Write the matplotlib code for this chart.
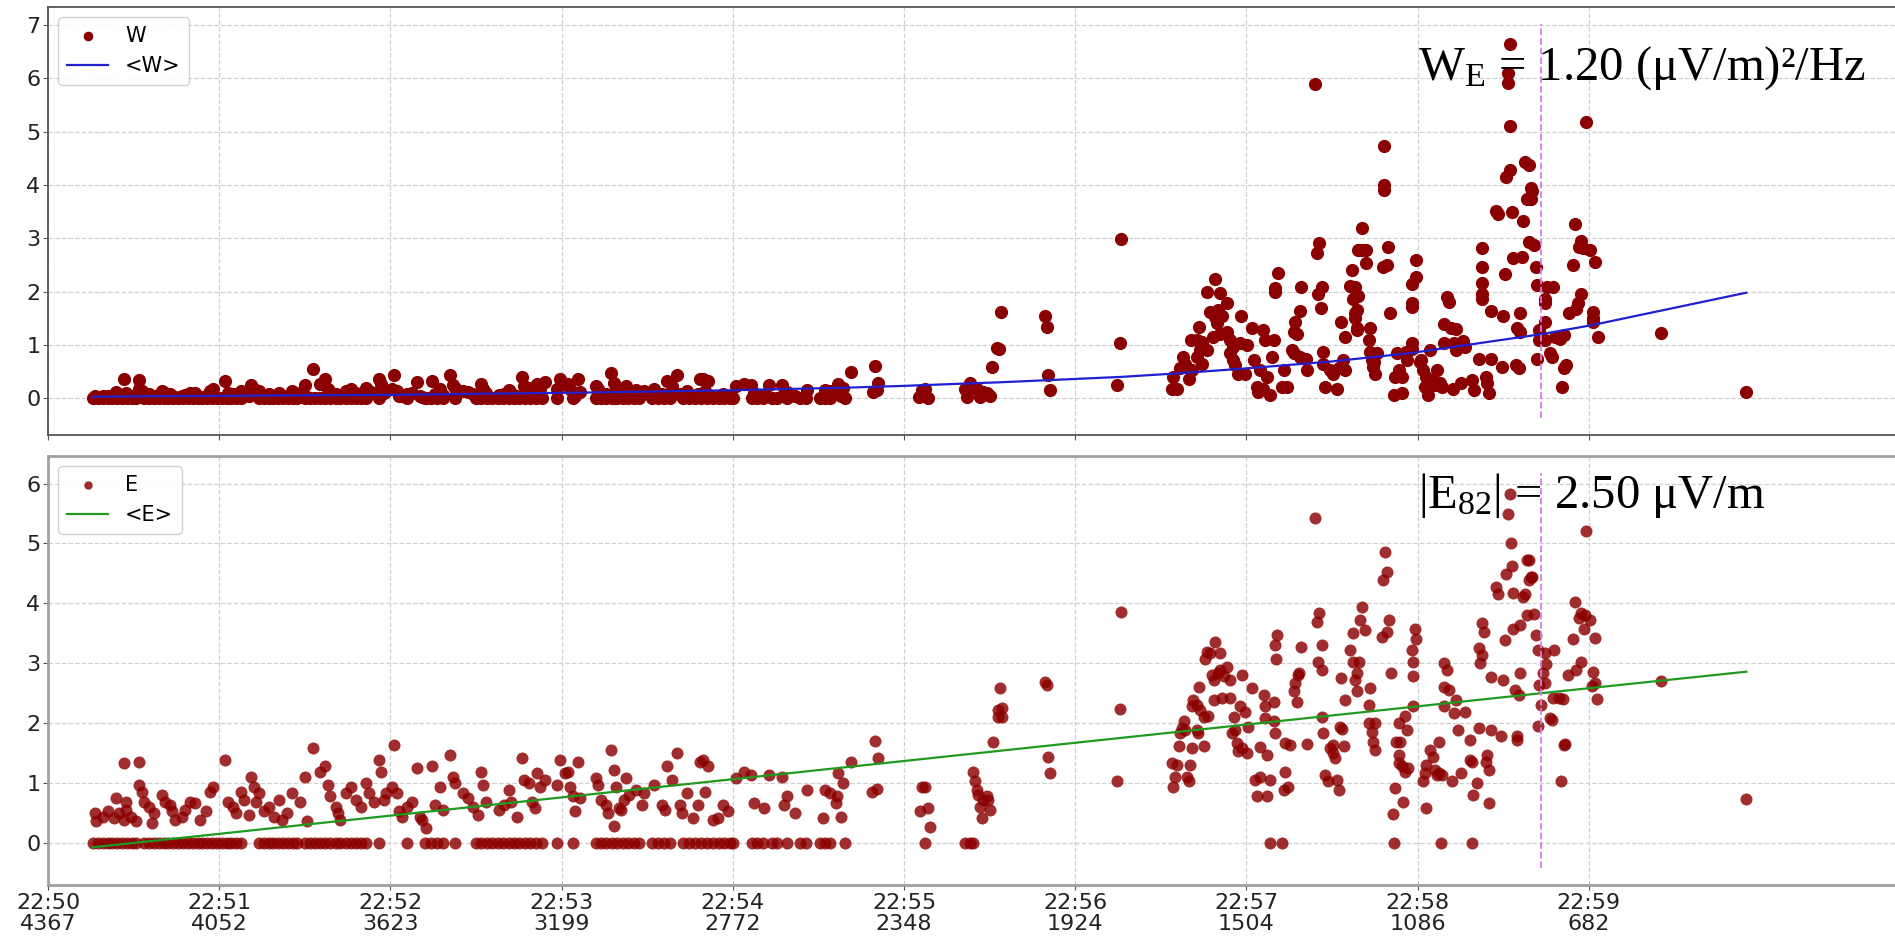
import matplotlib
matplotlib.use('Agg')
import matplotlib.pyplot as plt
import numpy as np

plt.rcParams['mathtext.fontset'] = 'custom'
plt.rcParams['mathtext.rm'] = 'Liberation Serif'

# time axis: seconds after 22:50:00
tick_sec = [0, 60, 120, 180, 240, 300, 360, 420, 480, 540]
tick_clock = ['22:50', '22:51', '22:52', '22:53', '22:54', '22:55', '22:56', '22:57', '22:58', '22:59']
tick_alt = [4367, 4052, 3623, 3199, 2772, 2348, 1924, 1504, 1086, 682]

# early dense part, W and E share the same samples
t_early = [16.4, 16.7, 19.4, 21.2, 23.0, 23.9, 24.8, 26.6, 26.6, 27.4, 27.4, 29.2, 31.0, 31.9, 31.9, 32.8, 33.7, 35.5, 36.4, 37.3,
           40.0, 40.9, 42.6, 43.5, 44.4, 47.1, 48.0, 49.8, 51.6, 53.4, 55.2, 56.9, 57.8,
           61.9, 63.2, 65.0, 65.9, 67.7, 68.6, 70.4, 71.3, 72.1, 73.0, 73.9, 75.7, 77.5, 79.3, 81.1, 82.0, 83.8, 85.6, 88.2, 90.0, 90.9, 92.7,
           95.4, 97.2, 98.1, 99.0, 100.8, 101.6, 102.5, 104.3, 106.1, 107.9, 109.7, 111.5, 112.4, 114.2, 115.9, 116.8, 117.7, 118.6, 120.4, 121.3, 122.2, 123.1,
           124.0, 125.8, 127.6, 129.4, 130.3, 131.1, 132.6, 134.7, 135.6, 137.4, 138.3, 141.0, 141.9, 142.8,
           145.5, 147.2, 149.0, 150.8, 151.7, 152.6, 153.5, 158.0, 159.8, 161.5, 162.4, 164.2, 166.0, 166.9, 168.7, 169.6, 170.5, 171.4, 172.3, 174.1,
           178.5, 179.4, 181.2, 182.1, 183.0, 183.9, 184.8, 185.7, 186.6,
           191.9, 192.8, 193.7, 195.5, 196.4, 197.3, 198.2, 198.2, 199.1, 200.0, 200.9, 201.8, 202.7, 203.6, 206.2, 208.0, 208.9,
           212.5, 215.2, 216.1, 217.0, 218.8, 220.5, 221.4, 222.3, 224.1, 225.9, 227.7, 228.6, 229.5, 230.4, 231.3, 233.1, 234.9, 236.6, 238.4,
           241.1, 243.8, 246.5, 247.4, 250.9, 252.7, 257.2, 258.1, 259.0, 261.7, 266.1,
           271.5, 272.4, 274.2, 276.0, 276.4, 276.9, 277.8, 278.7, 281.3]
e_early = [0.50, 0.36, 0.44, 0.53, 0.42, 0.75, 0.50, 0.39, 1.33, 0.56, 0.69, 0.44, 0.36, 1.36, 0.97, 0.86, 0.69, 0.61, 0.33, 0.50,
           0.81, 0.69, 0.64, 0.53, 0.39, 0.44, 0.56, 0.69, 0.67, 0.39, 0.53, 0.86, 0.94,
           1.39, 0.69, 0.61, 0.50, 0.86, 0.72, 0.47, 1.11, 0.94, 0.69, 0.83, 0.53, 0.61, 0.44, 0.72, 0.39, 0.50, 0.83, 0.69, 1.11, 0.36, 1.58,
           1.19, 1.28, 0.97, 0.78, 0.61, 0.50, 0.39, 0.83, 0.94, 0.72, 0.61, 1.00, 0.83, 0.69, 1.39, 1.19, 0.72, 0.83, 0.94, 1.64, 0.83, 0.53,
           0.44, 0.61, 0.69, 1.25, 0.44, 0.39, 0.25, 1.28, 0.64, 0.94, 0.56, 1.47, 1.11, 1.00,
           0.83, 0.75, 0.61, 0.47, 1.19, 0.97, 0.69, 0.56, 0.64, 0.89, 0.69, 0.44, 1.42, 1.06, 1.00, 0.69, 0.58, 1.17, 0.94, 1.06,
           0.97, 1.39, 1.17, 1.19, 0.94, 0.78, 0.53, 1.36, 0.75,
           1.08, 0.97, 0.72, 0.64, 0.50, 1.56, 1.22, 0.28, 0.94, 0.58, 0.56, 0.72, 1.08, 0.81, 0.89, 0.64, 0.83,
           0.97, 0.64, 0.56, 1.28, 1.06, 1.50, 0.64, 0.50, 0.83, 0.42, 0.64, 1.36, 1.39, 0.86, 1.28, 0.39, 0.42, 0.64, 0.53,
           1.08, 1.19, 1.14, 0.67, 0.58, 1.14, 1.11, 0.64, 0.78, 0.50, 0.89,
           0.42, 0.89, 0.83, 0.67, 0.78, 1.17, 0.44, 1.00, 1.36]
w_early = [0.05, 0.02, 0.04, 0.05, 0.03, 0.11, 0.05, 0.03, 0.37, 0.06, 0.09, 0.04, 0.02, 0.35, 0.18, 0.14, 0.09, 0.07, 0.02, 0.05,
           0.13, 0.09, 0.08, 0.05, 0.03, 0.04, 0.06, 0.09, 0.09, 0.03, 0.05, 0.14, 0.17,
           0.33, 0.09, 0.07, 0.05, 0.14, 0.10, 0.04, 0.24, 0.17, 0.09, 0.13, 0.05, 0.07, 0.04, 0.10, 0.03, 0.05, 0.13, 0.09, 0.24, 0.02, 0.54,
           0.27, 0.36, 0.18, 0.12, 0.07, 0.05, 0.03, 0.13, 0.17, 0.10, 0.07, 0.19, 0.13, 0.09, 0.37, 0.27, 0.10, 0.13, 0.17, 0.43, 0.13, 0.05,
           0.04, 0.07, 0.09, 0.30, 0.04, 0.03, 0.01, 0.32, 0.08, 0.17, 0.06, 0.43, 0.24, 0.19,
           0.13, 0.11, 0.07, 0.04, 0.27, 0.18, 0.09, 0.06, 0.08, 0.15, 0.09, 0.04, 0.39, 0.22, 0.19, 0.09, 0.06, 0.26, 0.17, 0.30,
           0.18, 0.37, 0.26, 0.27, 0.17, 0.12, 0.05, 0.36, 0.11,
           0.22, 0.18, 0.10, 0.08, 0.05, 0.47, 0.29, 0.01, 0.17, 0.06, 0.06, 0.10, 0.22, 0.13, 0.15, 0.08, 0.13,
           0.18, 0.08, 0.06, 0.32, 0.22, 0.43, 0.08, 0.05, 0.13, 0.03, 0.08, 0.36, 0.37, 0.14, 0.32, 0.03, 0.03, 0.08, 0.05,
           0.22, 0.27, 0.25, 0.09, 0.06, 0.25, 0.24, 0.08, 0.12, 0.05, 0.15,
           0.03, 0.15, 0.13, 0.09, 0.12, 0.26, 0.04, 0.19, 0.49]

# samples where both W and E read zero
t_zero = [15.8, 17.5, 19.2, 20.9, 22.6, 24.3, 26.0, 27.7, 29.4, 31.0,
          33.7, 35.4, 37.1, 38.8, 40.5, 42.2, 43.9, 45.6, 47.3, 49.0, 50.7, 52.4, 54.1, 55.8, 57.5, 59.2, 60.9, 62.6, 64.3, 66.0, 67.7,
          73.9, 75.6, 77.3, 79.0, 80.7, 82.4, 84.1, 85.8, 87.3,
          90.0, 91.8, 93.6, 95.4, 97.2, 99.0, 100.8, 102.5, 104.3, 106.1, 107.9, 109.7, 111.5,
          115.9, 125.8, 132.0, 134.1, 136.2, 138.3, 142.8,
          150.0, 151.9, 153.8, 155.7, 157.6, 159.5, 161.4, 163.3, 165.0, 167.0, 169.0, 171.0, 173.0,
          178.5, 183.9,
          191.9, 193.8, 195.7, 197.6, 199.5, 201.4, 203.3, 205.2, 207.0,
          211.6, 213.8, 216.0, 218.0,
          222.7, 224.7, 226.7, 228.7, 230.9, 233.0, 235.0, 237.0, 239.0, 240.2,
          246.6, 248.6, 250.7, 253.7, 255.4, 258.9, 263.6, 265.5, 270.6, 272.3, 274.1, 279.3]
# later zero readings of E only
t_e_zero = [307.4, 321.4, 323.0, 324.3, 428.3, 432.4, 471.8, 488.2, 499.2]

# later W samples
t_w_late = [289.2, 289.9, 290.4, 290.9, 305.2, 306.2, 307.4, 308.5,
            321.4, 322.0, 323.2, 324.3, 325.5, 326.7, 327.8, 329.0, 330.2, 331.0, 332.6, 333.2, 334.0,
            349.5, 350.1, 350.6, 351.0, 374.8, 375.7, 376.0,
            393.8, 394.4, 395.6, 396.8, 397.7, 398.5, 399.7, 400.5, 400.9, 402.6, 402.6, 403.5, 403.8, 404.4, 404.4, 406.1, 406.1, 407.3,
            408.4, 409.0, 409.0, 409.6, 410.2, 410.8, 410.8, 411.4, 413.1, 413.1, 414.3, 414.3, 415.4, 415.4, 415.9, 417.2, 417.8, 418.0, 419.6, 420.1,
            421.9, 422.5, 423.7, 424.2, 424.8, 425.7, 425.9, 426.6, 427.1, 428.3, 428.9, 429.5, 430.1, 430.1, 431.0, 432.4, 433.0, 434.1,
            435.9, 436.5, 436.5, 437.1, 437.6, 438.8, 438.8, 439.2, 440.9, 441.2,
            444.1, 444.9, 445.0, 445.6, 446.0, 446.4, 447.0, 447.0, 447.6, 449.3, 450.5, 451.7, 452.3, 453.1, 454.0, 454.6, 454.6,
            456.3, 457.0, 457.5, 458.1, 458.1, 458.1, 458.1, 458.7, 458.7, 458.8, 459.2, 459.2, 460.5, 460.5, 461.8, 461.8, 462.8, 463.4, 463.4,
            464.0, 464.5, 464.8, 465.1, 465.7,
            468.0, 468.3, 468.3, 468.3, 469.1, 469.6, 470.3, 471.6, 472.1, 472.8, 473.4, 474.5, 474.5, 475.8, 476.3, 478.0, 478.0, 478.0, 478.0,
            478.2, 479.5, 479.5,
            480.7, 481.2, 481.9, 482.5, 483.1, 483.7, 484.4, 485.0, 486.1, 486.8, 488.0, 488.6, 489.3, 489.3, 490.3, 490.9, 491.6, 492.3, 492.8,
            493.5, 493.5, 495.3, 495.9, 496.5, 499.0, 499.6, 501.4,
            502.4, 502.6, 502.6, 502.6, 502.6, 503.9, 504.4, 505.0, 505.7, 505.7, 507.5, 508.0, 509.6, 510.0, 510.5, 510.9, 511.7, 511.7,
            512.4, 512.4, 512.4, 513.0, 513.5, 514.5, 514.9, 515.4, 516.0, 516.0, 516.6, 517.0, 517.8, 518.4, 519.0, 519.0, 519.7, 519.7,
            520.1, 520.8, 521.5, 522.0, 522.0, 522.6, 522.7,
            524.5, 524.5, 524.5, 524.5, 525.2, 526.4, 527.0, 527.6, 528.2, 529.9, 530.6, 531.3, 531.4, 531.9, 533.0, 534.3, 535.1, 535.6,
            536.1, 536.7, 537.3, 537.3, 538.0, 539.0, 540.4, 541.5, 541.5, 541.5, 542.2, 543.1, 565.3, 595.1]
w_late = [0.12, 0.60, 0.16, 0.28, 0.03, 0.15, 0.17, 0.00,
          0.18, 0.03, 0.28, 0.20, 0.18, 0.03, 0.12, 0.10, 0.04, 0.58, 0.95, 0.92, 1.62,
          1.54, 1.34, 0.43, 0.16, 0.24, 1.03, 2.98,
          0.18, 0.40, 0.18, 0.56, 0.78, 0.65, 0.37, 1.09, 0.53, 1.09, 0.78, 1.33, 0.90, 1.06, 0.65, 1.99, 0.90, 1.62,
          1.15, 2.23, 1.53, 1.41, 1.65, 1.98, 1.21, 1.54, 1.79, 1.24, 1.09, 0.84, 0.96, 0.71, 0.62, 0.46, 1.03, 1.54, 0.46, 0.99,
          1.31, 0.71, 0.21, 0.12, 0.53, 1.28, 0.18, 1.09, 0.40, 0.06, 0.78, 1.10, 2.06, 2.00, 2.35, 0.21, 0.53, 0.21,
          0.90, 0.84, 1.24, 1.43, 1.21, 0.78, 1.64, 2.08, 0.74, 0.53,
          5.89, 2.73, 1.96, 2.92, 1.70, 2.09, 0.87, 0.65, 0.21, 0.53, 0.46, 0.18, 0.56, 1.43, 0.71, 0.53, 1.15,
          2.10, 2.40, 1.87, 1.50, 2.08, 1.90, 1.60, 1.65, 1.28, 1.31, 2.78, 1.91, 3.19, 2.78, 2.78, 2.53, 1.09, 0.87, 1.31,
          0.71, 0.59, 0.68, 0.46, 0.84,
          2.46, 4.73, 4.00, 3.90, 2.50, 2.83, 1.59, 0.06, 0.40, 0.84, 0.53, 0.40, 0.09, 0.87, 0.71, 2.15, 1.78, 1.72, 1.03,
          0.93, 2.59, 2.28,
          0.68, 0.71, 0.53, 0.21, 0.40, 0.06, 0.90, 0.34, 0.24, 0.53, 0.28, 0.21, 1.40, 1.03, 1.90, 1.81, 1.31, 0.18, 1.03,
          1.29, 0.90, 0.28, 1.08, 0.96, 0.34, 0.15, 0.74,
          2.16, 2.81, 2.46, 1.96, 1.87, 0.40, 0.28, 0.09, 1.64, 0.74, 3.51, 3.46, 0.59, 1.54, 2.34, 4.15, 6.10, 5.92,
          6.64, 4.28, 5.10, 3.50, 2.64, 0.62, 1.31, 0.56, 1.59, 1.24, 2.65, 3.33, 4.43, 3.73, 4.37, 2.93, 3.94, 3.73,
          3.88, 2.87, 2.46, 2.12, 0.74, 1.09, 1.28,
          1.87, 1.78, 1.43, 1.09, 2.09, 0.84, 0.78, 2.09, 1.15, 1.12, 0.21, 0.56, 1.18, 0.62, 1.59, 2.50, 3.27, 1.68,
          1.78, 2.84, 2.95, 1.96, 2.81, 5.18, 2.79, 1.62, 1.50, 1.43, 2.55, 1.14, 1.23, 0.11]

# later E samples
t_e_late = [288.7, 289.9, 290.4, 291.0,
            305.6, 306.2, 307.4, 308.5, 309.1,
            324.3, 324.9, 325.5, 326.1, 326.7, 327.2, 327.8, 329.0, 329.6, 330.2,
            331.1, 332.9, 333.1, 333.7, 334.3, 334.3,
            349.4, 350.1, 350.3, 351.0, 374.8, 375.7, 376.0,
            393.8, 394.4, 395.0, 395.6, 396.2, 396.8, 397.4, 398.0, 398.5, 399.1, 399.7, 400.3, 400.9, 400.9, 401.4, 402.6, 402.6,
            403.2, 403.5, 403.8, 405.0, 405.0, 405.5, 406.1, 406.7, 407.3, 407.9, 408.5, 408.5, 409.0, 410.2, 410.8, 410.8, 411.4,
            412.0, 413.1, 414.3, 414.3, 414.9, 415.5, 416.0, 416.6, 417.2, 417.8, 418.4, 418.4, 419.5, 420.1, 420.7, 421.9,
            423.0, 423.6, 424.8, 424.8, 426.0, 426.6, 426.6, 427.1, 427.1, 428.3, 429.5, 429.5, 430.1, 430.1, 430.4, 430.6,
            433.0, 433.6, 433.6, 434.7, 435.3,
            436.5, 437.1, 437.6, 438.2, 438.6, 439.2, 441.2,
            444.1, 444.9, 445.2, 445.6, 446.4, 446.4, 446.4, 446.8, 447.6, 448.7, 449.3, 450.5, 450.5, 451.1, 451.7, 452.3,
            452.8, 453.1, 453.4, 454.2, 454.6,
            456.3, 457.3, 457.5, 458.1, 458.7, 458.7, 459.3, 459.8, 460.4, 461.6, 462.8, 463.1, 463.3, 464.0, 464.5, 465.1, 465.1,
            467.4, 468.0, 468.4, 469.2, 469.2, 470.0, 470.6,
            471.3, 472.1, 472.5, 473.3, 473.3, 473.6, 473.9, 474.5, 475.0, 475.6, 475.6, 476.2, 476.8,
            478.0, 478.3, 478.5, 478.5, 479.1, 479.5,
            481.9, 482.5, 483.1, 483.1, 484.3, 485.5, 486.1, 486.8, 487.4, 487.4, 488.6,
            489.2, 489.2, 489.2, 490.4, 491.0, 492.2, 492.8, 493.5, 494.1, 495.3, 496.5,
            498.3, 498.3, 498.9, 499.5, 500.8,
            501.4, 501.6, 502.0, 502.6, 502.6, 503.2, 503.8, 504.4, 505.0, 505.0, 505.6, 505.6,
            507.5, 508.1, 509.3, 509.9, 510.5, 510.9, 511.7, 512.3, 512.6, 513.0, 513.3, 513.5, 514.2, 514.8, 514.8, 515.4,
            516.0, 516.0, 517.0, 517.8, 518.4, 518.4, 519.0, 519.0, 519.6, 520.2, 520.9, 521.5,
            522.1, 522.1, 522.7, 523.1, 523.9, 524.5, 524.5, 525.1, 526.3, 527.0, 527.6, 527.9, 529.4, 530.4, 530.8, 531.2,
            531.8, 532.8, 534.3, 535.2, 535.5, 536.7, 537.3, 537.3, 538.2, 538.5, 539.1, 540.3, 541.0, 541.6, 542.2, 542.2,
            542.8, 565.3, 595.2]
e_late = [0.86, 1.71, 0.90, 1.42,
          0.54, 0.94, 0.94, 0.58, 0.26,
          1.19, 1.03, 0.89, 0.81, 0.61, 0.42, 0.72, 0.78, 0.72, 0.56,
          1.69, 2.22, 2.11, 2.58, 2.25, 2.11,
          2.69, 2.64, 1.44, 1.17, 1.04, 2.23, 3.85,
          1.33, 0.94, 1.11, 1.31, 1.62, 1.83, 1.92, 2.03, 1.89, 1.11, 1.03, 1.31, 1.58, 2.28, 2.39, 2.31, 1.89,
          1.83, 2.61, 2.22, 2.11, 1.62, 3.08, 3.19, 2.12, 3.17, 2.81, 2.72, 2.39, 3.36, 2.83, 3.17, 2.89, 2.42,
          2.78, 2.94, 2.72, 2.42, 1.83, 2.11, 1.89, 1.67, 1.53, 2.28, 2.81, 1.58, 2.19, 1.50, 1.94, 2.58,
          1.06, 0.79, 1.61, 1.11, 2.47, 2.28, 2.08, 1.47, 0.79, 1.06, 2.36, 2.03, 3.31, 1.83, 3.08, 3.47,
          0.89, 1.67, 1.19, 0.94, 1.64,
          2.53, 2.67, 2.36, 2.81, 2.83, 3.28, 1.66,
          5.42, 3.69, 3.03, 3.84, 3.31, 2.89, 2.11, 1.83, 1.14, 1.03, 1.58, 1.64, 1.50, 1.42, 1.06, 0.89,
          1.94, 2.75, 1.90, 1.62, 2.39,
          3.22, 3.50, 3.03, 2.72, 2.83, 2.54, 3.03, 3.72, 3.94, 3.56, 2.00, 2.31, 2.58, 1.86, 1.69, 2.00, 1.56,
          3.44, 4.39, 4.86, 4.53, 3.53, 3.73, 2.84,
          0.48, 0.92, 1.68, 1.47, 1.33, 2.00, 1.69, 1.28, 0.68, 1.19, 2.12, 1.89, 1.25,
          3.23, 2.79, 3.03, 2.28, 3.58, 3.40,
          1.03, 1.17, 1.31, 0.58, 1.56, 1.44, 1.22, 1.14, 1.69, 1.17, 1.14,
          3.00, 2.61, 2.28, 2.89, 2.56, 1.03, 2.17, 2.39, 1.89, 1.17, 2.19,
          1.72, 1.39, 1.36, 0.81, 1.00,
          3.25, 1.92, 3.01, 3.68, 3.14, 3.53, 1.36, 1.47, 1.22, 0.67, 2.77, 1.89,
          4.28, 4.16, 1.78, 2.72, 3.39, 4.49, 5.49, 5.83, 5.00, 4.62, 4.17, 3.58, 2.56, 1.78, 1.72, 2.47,
          3.64, 2.83, 4.10, 4.16, 4.72, 3.80, 4.72, 4.39, 4.44, 4.44, 3.82, 3.47,
          3.23, 1.96, 2.64, 2.31, 2.83, 3.17, 2.67, 2.99, 2.08, 2.06, 2.42, 3.22, 2.42, 1.04, 2.40, 1.64,
          1.66, 2.81, 3.40, 4.03, 2.89, 3.75, 3.84, 3.03, 3.58, 3.81, 5.21, 3.73, 2.62, 2.86, 3.43, 2.67,
          2.40, 2.71, 0.74]

# running means
t_wfit = [15.8, 123.0, 193.0, 240.0, 281.0, 299.0, 334.0, 351.0, 376.0, 397.0, 420.0, 450.0, 478.0, 523.1, 541.0, 595.2]
w_fit = [0.03, 0.065, 0.11, 0.15, 0.20, 0.23, 0.30, 0.34, 0.40, 0.47, 0.56, 0.69, 0.85, 1.20, 1.37, 1.98]
t_efit = [15.8, 523.1, 595.2]
e_fit = [-0.07, 2.50, 2.86]

# marked sample (point 82)
t_mark = 523.1
w_mark = 1.20
e_mark = 2.50

t_w = t_early + t_zero + t_w_late
w = w_early + [0.0] * len(t_zero) + w_late
t_e = t_early + t_zero + t_e_zero + t_e_late
e = e_early + [0.0] * (len(t_zero) + len(t_e_zero)) + e_late

fig = plt.figure(figsize=(18.95, 9.41), dpi=100)
ax_w = fig.add_axes([48 / 1895, 1 - 435 / 941, 1849 / 1895, 428 / 941])
ax_e = fig.add_axes([48 / 1895, 1 - 885 / 941, 1849 / 1895, 429 / 941])

ax_w.scatter(t_w, w, s=72, color='#8b0000', label='W', zorder=2)
ax_w.plot(t_wfit, w_fit, color='#2020d0', lw=1.6, label='<W>', zorder=3)
ax_e.scatter(t_e, e, s=75, color='#8b0000', alpha=0.82, linewidths=0, label='E', zorder=2)
ax_e.plot(t_efit, e_fit, color='#1f9a1f', lw=1.6, label='<E>', zorder=3)

for ax in (ax_w, ax_e):
    ax.axvline(t_mark, ymin=0.04, ymax=0.96, color='#d77ee6', ls='--', lw=1.3, zorder=4)
    ax.grid(True, ls='--', color='#d0d0d0', lw=0.9)
    ax.set_axisbelow(True)
    ax.set_xlim(0, 648)
    ax.set_xticks(tick_sec)
    ax.tick_params(labelsize=16, labelcolor='#222222', color='#555555', pad=2)
    ax.legend(loc='upper left', fontsize=15, markerscale=0.7, framealpha=0.9, edgecolor='#cccccc')

ax_w.set_ylim(-0.69, 7.34)
ax_w.set_yticks(range(0, 8))
ax_w.tick_params(labelbottom=False)
for sp in ax_w.spines.values():
    sp.set_color('#555555')
    sp.set_linewidth(1.3)

ax_e.set_ylim(-0.70, 6.46)
ax_e.set_yticks(range(0, 7))
ax_e.set_xticklabels([f'{c}\n{a}' for c, a in zip(tick_clock, tick_alt)], linespacing=1.1)
for sp in ax_e.spines.values():
    sp.set_color('#a0a0a0')
    sp.set_linewidth(2.0)

ax_w.text(480, 5.97, r'$\mathrm{W_E}$' + f' = {w_mark:.2f} (μV/m)²/Hz',
          fontsize=35, family='Liberation Serif', va='baseline', zorder=5)
ax_e.text(480, 5.59, r'|$\mathrm{E_{82}}$|' + f' = {e_mark:.2f} μV/m',
          fontsize=35, family='Liberation Serif', va='baseline', zorder=5)

fig.savefig('out.png', dpi=100)
